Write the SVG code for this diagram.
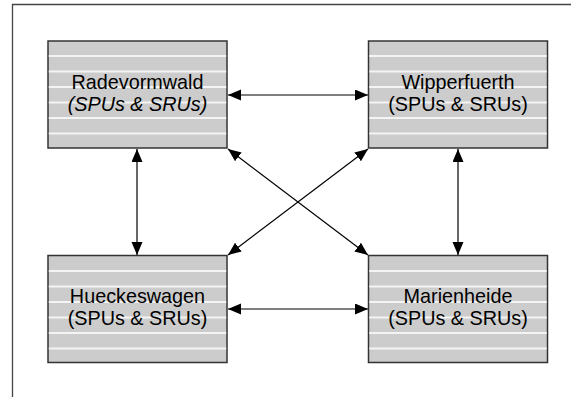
<svg xmlns="http://www.w3.org/2000/svg" xmlns:xlink="http://www.w3.org/1999/xlink" width="572" height="397" viewBox="0 0 572 397">
  <style>
    .frame { stroke: #444; stroke-width: 1.3; fill: none; }
    .box { fill: #cccccc; stroke: #333; stroke-width: 1.5; }
    .stripe { stroke: #f4f4f4; stroke-width: 1.8; }
    .lbl { font-family: "Liberation Sans", Arial, sans-serif; font-size: 19.8px; fill: #000; text-anchor: middle; }
    .it { font-style: italic; }
    .conn { stroke: #000; stroke-width: 1.2; fill: none; marker-start: url(#ah); marker-end: url(#ah); }
  </style>
  <defs>
    <marker id="ah" markerUnits="userSpaceOnUse" markerWidth="14" markerHeight="12" refX="13" refY="5.5" orient="auto-start-reverse" viewBox="0 0 14 12">
      <path d="M0,0 L13,5.5 L0,11 z" fill="#000"/>
    </marker>
    <g id="stripes">
      <line class="stripe" x1="0.8" y1="15" x2="178.2" y2="15"/>
      <line class="stripe" x1="0.8" y1="30.5" x2="178.2" y2="30.5"/>
      <line class="stripe" x1="0.8" y1="46" x2="178.2" y2="46"/>
      <line class="stripe" x1="0.8" y1="61.5" x2="178.2" y2="61.5"/>
      <line class="stripe" x1="0.8" y1="77" x2="178.2" y2="77"/>
      <line class="stripe" x1="0.8" y1="92.5" x2="178.2" y2="92.5"/>
    </g>
  </defs>
  <rect width="572" height="397" fill="#fff"/>
  <line class="frame" x1="12" y1="4.5" x2="571" y2="4.5"/>
  <line class="frame" x1="12.5" y1="4" x2="12.5" y2="397" stroke="#111"/>

  <g id="connectors">
    <line class="conn" x1="228" y1="95" x2="368" y2="95"/>
    <line class="conn" x1="228" y1="309" x2="368" y2="309"/>
    <line class="conn" x1="137" y1="149" x2="137" y2="255"/>
    <line class="conn" x1="458" y1="149" x2="458" y2="255"/>
    <line class="conn" x1="228" y1="149" x2="368" y2="255"/>
    <line class="conn" x1="368" y1="149" x2="228" y2="255"/>
  </g>

  <g id="radevormwald">
    <rect class="box" x="48" y="41" width="179" height="107"/>
    <use xlink:href="#stripes" transform="translate(48,41)"/>
    <text class="lbl" x="137.5" y="89">Radevormwald</text>
    <text class="lbl it" x="137.5" y="110.5">(SPUs &amp; SRUs)</text>
  </g>

  <g id="wipperfuerth">
    <rect class="box" x="368.5" y="41" width="179" height="107"/>
    <use xlink:href="#stripes" transform="translate(368.5,41)"/>
    <text class="lbl" x="458" y="89">Wipperfuerth</text>
    <text class="lbl" x="458" y="110.5">(SPUs &amp; SRUs)</text>
  </g>

  <g id="hueckeswagen">
    <rect class="box" x="48" y="255.5" width="179" height="107"/>
    <use xlink:href="#stripes" transform="translate(48,256)"/>
    <text class="lbl" x="137.5" y="303">Hueckeswagen</text>
    <text class="lbl" x="137.5" y="325">(SPUs &amp; SRUs)</text>
  </g>

  <g id="marienheide">
    <rect class="box" x="368.5" y="255.5" width="179" height="107"/>
    <use xlink:href="#stripes" transform="translate(368.5,256)"/>
    <text class="lbl" x="458" y="303">Marienheide</text>
    <text class="lbl" x="458" y="325">(SPUs &amp; SRUs)</text>
  </g>
</svg>
